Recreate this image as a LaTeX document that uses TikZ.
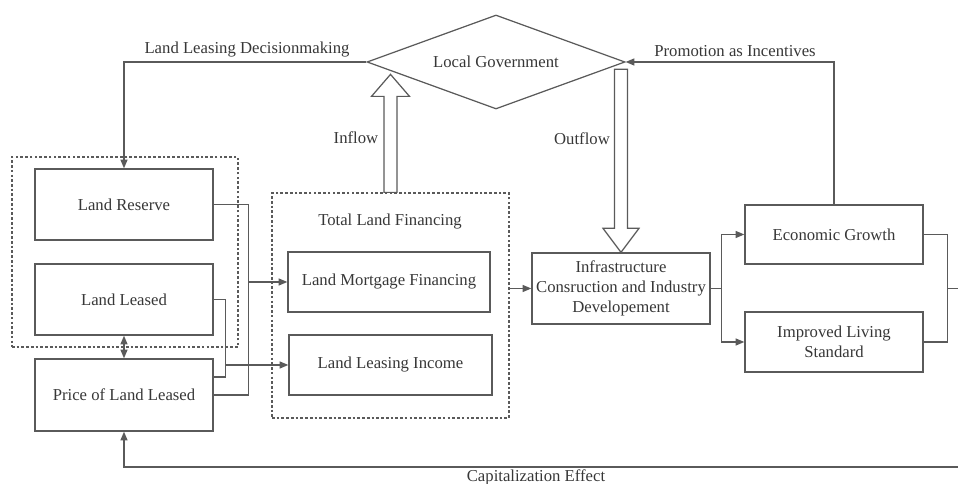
\documentclass[tikz,border=0pt]{standalone}
\usepackage{fontspec}
\setmainfont{Liberation Serif}
\usetikzlibrary{arrows.meta,positioning,shapes.geometric}
\definecolor{lnline}{RGB}{90,90,90}
\definecolor{lntext}{RGB}{55,55,55}

\begin{document}
\begin{tikzpicture}[
  font=\fontsize{9.5}{11.4}\selectfont, text=lntext,
  box/.style={rectangle, draw=lnline, line width=0.75pt, minimum width=3.56cm, align=center, inner sep=2pt},
  group/.style={rectangle, draw=lnline, line width=0.7pt, dash pattern=on 1.5pt off 1.2pt},
  link/.style={draw=lnline, line width=0.75pt},
  tip/.style={-{Triangle[length=5pt,width=4pt]}},
  tips/.style={{Triangle[length=5pt,width=4pt]}-{Triangle[length=5pt,width=4pt]}},
  flow/.style={draw=lnline, line width=0.7pt, fill=white, line join=miter}
]
\useasboundingbox (0,0) rectangle (19.16,9.68);
\clip (0,0) rectangle (19.16,9.68);

% Local government
\node[diamond, aspect=2.74, draw=lnline, line width=0.7pt, minimum width=5.16cm, minimum height=1.88cm, inner sep=0pt] (gov) at (9.92,8.44) {Local Government};

% Land pool
\node[group, minimum width=4.52cm, minimum height=3.8cm] (pool) at (2.5,4.64) {};
\node[box, minimum height=1.42cm] (reserve) at (2.48,5.59) {Land Reserve};
\node[box, minimum height=1.42cm] (leased) at (2.48,3.69) {Land Leased};
\node[box, minimum height=1.44cm] (price) at (2.48,1.78) {Price of Land Leased};

% Total land financing
\node[group, minimum width=4.74cm, minimum height=4.5cm] (fin) at (7.81,3.57) {};
\node (fintitle) at (7.8,5.24) {Total Land Financing};
\node[box, minimum width=4.04cm, minimum height=1.2cm] (mort) at (7.78,4.04) {Land Mortgage Financing};
\node[box, minimum width=4.06cm, minimum height=1.2cm] (income) at (7.81,2.38) {Land Leasing Income};

% Development
\node[box, minimum height=1.42cm] (infra) at (12.42,3.91) {Infrastructure\\Consruction and Industry\\Developement};
\node[box, minimum height=1.18cm] (growth) at (16.68,4.99) {Economic Growth};
\node[box, minimum height=1.2cm] (living) at (16.68,2.84) {Improved Living\\Standard};

% Feedback to and from government
\draw[link, tip] (gov.west) -| (reserve.north);
\node (decision) at (4.94,8.68) {Land Leasing Decisionmaking};
\draw[link, tip] (growth.north) |- (gov.east);
\node (promo) at (14.7,8.66) {Promotion as Incentives};

% Land pool to financing
\draw[link, tips] (leased.south) -- (price.north);
\coordinate[right=0.7cm of reserve.east] (jr);
\coordinate[right=0.24cm of leased.east] (jl);
\draw[link] (reserve.east) -- (jr) |- (price.east);
\draw[link] (leased.east) -- (jl) |- ([yshift=0.36cm]price.east);
\draw[link, tip] (jr |- mort.west) -- (mort.west);
\draw[link, tip] (jl |- income.west) -- (income.west);

% Financing to development
\draw[link, tip] (fin.east |- infra.west) -- (infra.west);
\coordinate[right=0.22cm of infra.east] (ji);
\draw[link, tip] (infra.east) -- (ji) |- (growth.west);
\draw[link, tip] (ji) |- (living.west);
\coordinate[right=0.48cm of growth.east] (jg);
\draw[link] (growth.east) -- (jg) |- (living.east);

% Capitalization effect
\coordinate (cap) at (10.72,0.34);
\draw[link, tip] (jg |- infra.east) -- ++(0.6,0) |- (cap) -| (price.south);
\node (capital) at (10.72,0.14) {Capitalization Effect};

% Inflow and outflow
\draw[flow] (fin.north) ++(-0.13,0) -- ++(0,1.92) -- ++(-0.25,0) -- ++(0.38,0.44) -- ++(0.38,-0.44) -- ++(-0.25,0) -- ++(0,-1.92) -- cycle;
\node (inflow) at (7.12,6.92) {Inflow};
\draw[flow] (infra.north) -- ++(-0.36,0.48) -- ++(0.23,0) -- ++(0,3.18) -- ++(0.26,0) -- ++(0,-3.18) -- ++(0.23,0) -- cycle;
\node (outflow) at (11.64,6.9) {Outflow};
\end{tikzpicture}
\end{document}
